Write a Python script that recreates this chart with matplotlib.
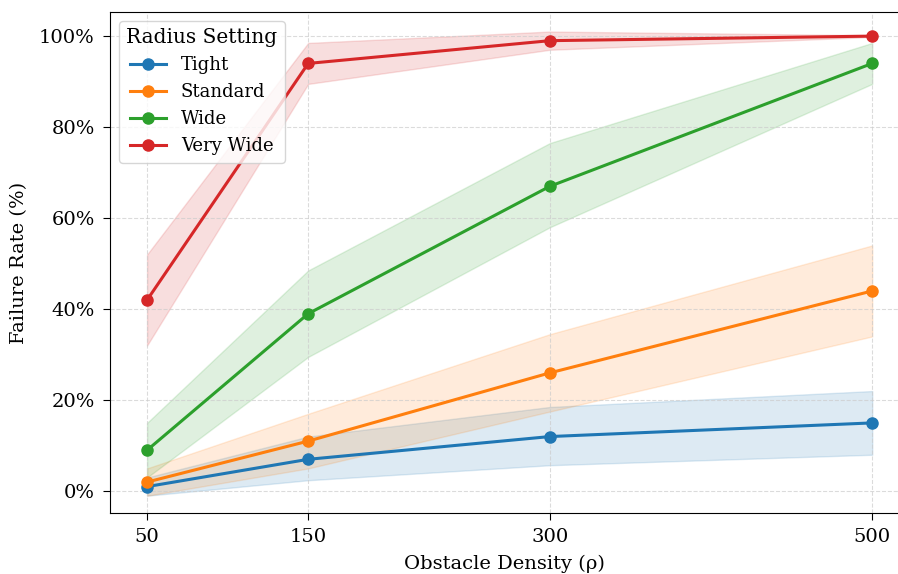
import matplotlib
matplotlib.use('Agg')
import matplotlib.pyplot as plt
from matplotlib.ticker import PercentFormatter

# data
density = [50, 150, 300, 500]
labels = ['Tight', 'Standard', 'Wide', 'Very Wide']
colors = ['#1f77b4', '#ff7f0e', '#2ca02c', '#d62728']

tight = [1, 7, 12, 15]
tight_lo = [-1, 2.4, 5.7, 8]
tight_hi = [3, 12, 18.5, 22]

standard = [2, 11, 26, 44]
standard_lo = [-1, 5, 17.5, 34]
standard_hi = [5, 17, 34.5, 54]

wide = [9, 39, 67, 94]
wide_lo = [3, 29.5, 58, 89.5]
wide_hi = [15, 48.5, 76.5, 98.5]

very_wide = [42, 94, 99, 100]
very_wide_lo = [32, 89.5, 97, 99.8]
very_wide_hi = [52, 98.5, 101, 100.2]

means = [tight, standard, wide, very_wide]
lows = [tight_lo, standard_lo, wide_lo, very_wide_lo]
highs = [tight_hi, standard_hi, wide_hi, very_wide_hi]

plt.rcParams['font.family'] = ['DejaVu Serif']

fig = plt.figure(figsize=(8.98, 5.74), dpi=100)
ax = fig.add_axes([110 / 898, 61 / 574, 788 / 898, 501 / 574])

for m, lo, hi, c, lab in zip(means, lows, highs, colors, labels):
    ax.fill_between(density, lo, hi, color=c, alpha=0.15)
    ax.plot(density, m, '-o', color=c, lw=2.2, ms=8, label=lab)

ax.set_xticks(density)
ax.set_xlim(27, 516)
ax.set_ylim(-4.8, 105.3)
ax.yaxis.set_major_formatter(PercentFormatter(decimals=0))
ax.grid(True, ls='--', color='#cccccc', alpha=0.7)
ax.tick_params(labelsize=14, length=5, pad=6)
ax.set_xlabel('Obstacle Density (ρ)', fontsize=14, labelpad=6)
ax.set_ylabel('Failure Rate (%)', fontsize=14, labelpad=8)
ax.spines['right'].set_visible(False)

ax.legend(title='Radius Setting', loc='upper left', fontsize=13, title_fontsize=14.5)

fig.savefig('out.png', dpi=100)
